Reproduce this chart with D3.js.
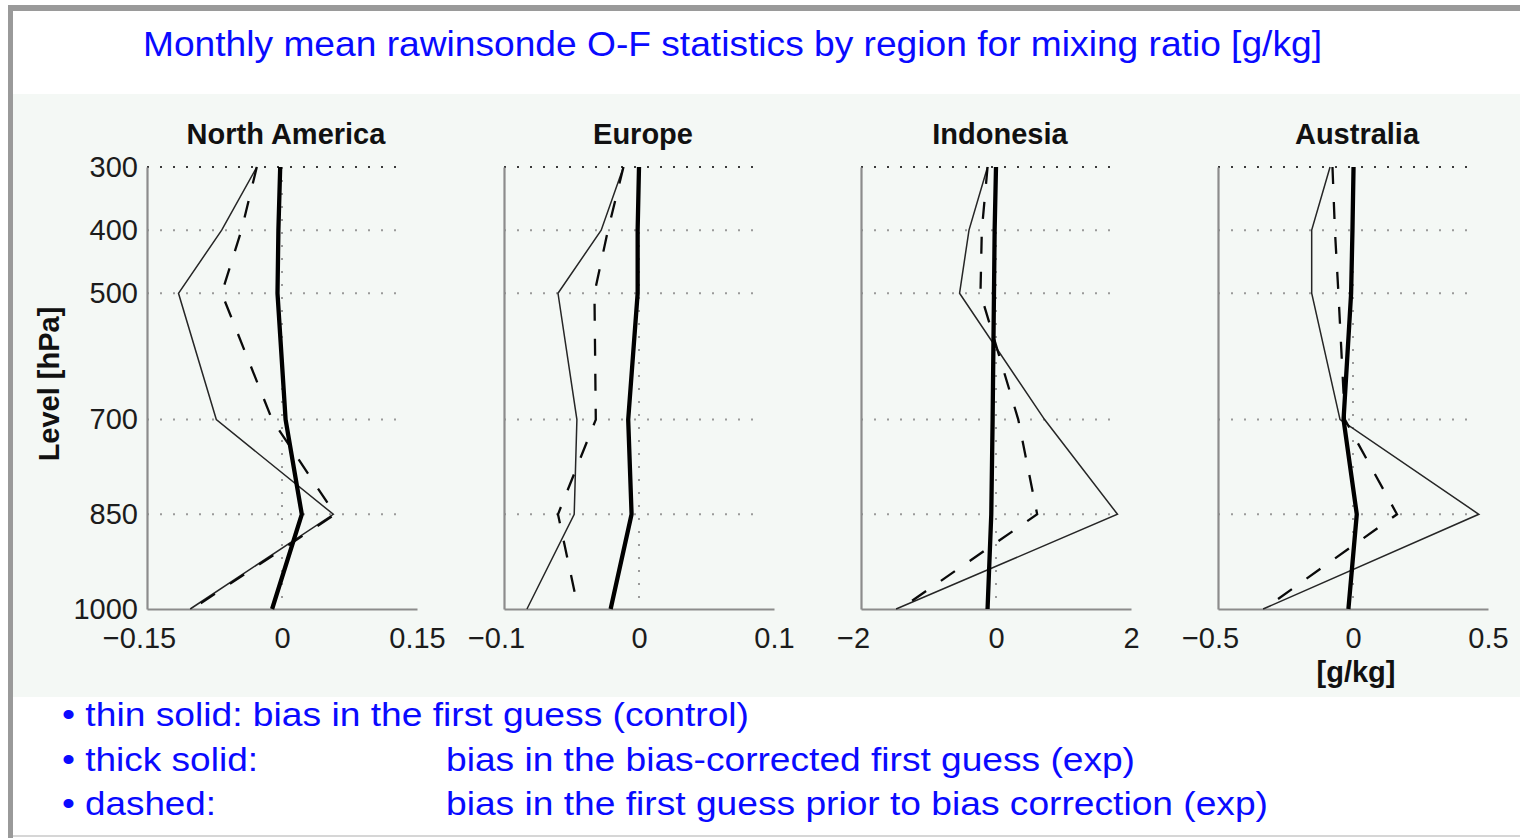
<!DOCTYPE html>
<html>
<head>
<meta charset="utf-8">
<script src="https://cdn.jsdelivr.net/npm/d3@7"></script>
<style>
  html, body { margin: 0; padding: 0; background: #fff; }
  svg { display: block; }
</style>
</head>
<body>
<script>
// Pressure levels [hPa] and panel setup
const levels = [300, 400, 500, 700, 850, 1000];
const regions = ["North America", "Europe", "Indonesia", "Australia"];
const xLimits = [0.15, 0.1, 2, 0.5];
const xTickLabels = [
  ["−0.15", "0", "0.15"],
  ["−0.1", "0", "0.1"],
  ["−2", "0", "2"],
  ["−0.5", "0", "0.5"]
];

// Mixing-ratio bias [g/kg] at each level, 300 -> 1000 hPa
// thin solid: first guess bias (control)
const naControl  = [-0.028, -0.067, -0.115, -0.073, 0.057, -0.102];
const euControl  = [-0.0115, -0.028, -0.060, -0.046, -0.048, -0.083];
const idControl  = [-0.125, -0.40, -0.54, 0.72, 1.80, -1.48];
const auControl  = [-0.085, -0.153, -0.153, -0.048, 0.466, -0.333];
// thick solid: bias-corrected first guess (exp)
const naCorrected = [-0.002, -0.004, -0.005, 0.004, 0.022, -0.011];
const euCorrected = [0.0, -0.001, -0.001, -0.008, -0.0055, -0.021];
const idCorrected = [0.0, -0.02, -0.03, -0.05, -0.07, -0.125];
const auCorrected = [0.002, -0.002, -0.007, -0.035, 0.014, -0.017];
// dashed: first guess prior to bias correction (exp)
const naPrior = [-0.028, -0.045, -0.067, -0.011, 0.059, -0.100];
const euPrior = [-0.0115, -0.023, -0.033, -0.032, -0.060, -0.045];
const idPrior = [-0.125, -0.21, -0.23, 0.33, 0.61, -1.42];
const auPrior = [-0.076, -0.067, -0.054, -0.030, 0.163, -0.330];

const controlSeries = [naControl, euControl, idControl, auControl];
const correctedSeries = [naCorrected, euCorrected, idCorrected, auCorrected];
const priorSeries = [naPrior, euPrior, idPrior, auPrior];

const legendLines = [
  ["• thin solid: bias in the first guess (control)", null],
  ["• thick solid:", "bias in the bias-corrected first guess (exp)"],
  ["• dashed:", "bias in the first guess prior to bias correction (exp)"]
];
const mainTitle = "Monthly mean rawinsonde O-F statistics by region for mixing ratio [g/kg]";

const W = 1520, H = 838;
const FONT = "'Liberation Sans', Arial, Helvetica, sans-serif";
const svg = d3.select("body").append("svg").attr("width", W).attr("height", H);

// page background and frame
svg.append("rect").attr("x", 0).attr("y", 0).attr("width", W).attr("height", H).attr("fill", "#fff");
svg.append("rect").attr("x", 13).attr("y", 94).attr("width", W - 13).attr("height", 603).attr("fill", "#f4f8f5");
svg.append("rect").attr("x", 8).attr("y", 5).attr("width", W - 8).attr("height", 6).attr("fill", "#9a9a9a");
svg.append("rect").attr("x", 8).attr("y", 5).attr("width", 5).attr("height", H - 5).attr("fill", "#9a9a9a");
svg.append("rect").attr("x", 13).attr("y", 835).attr("width", W - 13).attr("height", 2).attr("fill", "#d6d6d6");

// heading
svg.append("text")
  .attr("x", 143).attr("y", 56)
  .attr("font-family", FONT).attr("font-size", 35)
  .attr("fill", "#0a0aff")
  .attr("textLength", 1179).attr("lengthAdjust", "spacingAndGlyphs")
  .text(mainTitle);

// shared vertical scale (linear in pressure, 300 hPa at top)
const y = d3.scaleLinear().domain([300, 1000]).range([167, 609]);
const panelLeft0 = 147, panelStep = 357, panelWidth = 270;

regions.forEach((name, i) => {
  const left = panelLeft0 + i * panelStep;
  const lim = xLimits[i];
  const x = d3.scaleLinear().domain([-lim, lim]).range([left, left + panelWidth]);
  const g = svg.append("g");

  // dotted grid at each level
  g.selectAll("line.grid").data(levels.slice(0, -1)).join("line")
    .attr("x1", left).attr("x2", left + panelWidth - 12)
    .attr("y1", d => y(d)).attr("y2", d => y(d))
    .attr("stroke", d => d === 300 ? "#3a3a3a" : "#9a9a9a")
    .attr("stroke-width", 2)
    .attr("stroke-dasharray", "2,11");
  // dotted zero line
  g.append("line")
    .attr("x1", x(0)).attr("x2", x(0))
    .attr("y1", y(300)).attr("y2", y(1000))
    .attr("stroke", "#9a9a9a").attr("stroke-width", 2)
    .attr("stroke-dasharray", "2,11");

  // axes
  const xAxis = d3.axisBottom(x)
    .tickValues([-lim, 0, lim])
    .tickFormat((d, j) => xTickLabels[i][j])
    .tickSize(0).tickSizeOuter(0).tickPadding(18);
  const gx = g.append("g").attr("transform", `translate(0,${y(1000)})`).call(xAxis);
  gx.select(".domain").attr("stroke", "#8c8c8c").attr("stroke-width", 2.2);
  gx.selectAll("text")
    .attr("font-family", FONT).attr("font-size", 29).attr("fill", "#1c1c1c")
    .attr("dx", (d) => d < 0 ? -8 : 0);

  const yAxis = d3.axisLeft(y)
    .tickValues(i === 0 ? levels : [])
    .tickFormat(d3.format("d"))
    .tickSize(0).tickSizeOuter(0).tickPadding(9);
  const gy = g.append("g").attr("transform", `translate(${left},0)`).call(yAxis);
  gy.select(".domain").attr("stroke", "#8c8c8c").attr("stroke-width", 2.2);
  gy.selectAll("text")
    .attr("font-family", FONT).attr("font-size", 29).attr("fill", "#1c1c1c");

  // panel title
  g.append("text")
    .attr("x", left + panelWidth / 2 + 4).attr("y", 144)
    .attr("text-anchor", "middle")
    .attr("font-family", FONT).attr("font-size", 29).attr("font-weight", "bold")
    .attr("fill", "#111")
    .text(name);

  const line = d3.line()
    .x(d => x(d[1]))
    .y(d => y(d[0]));
  const pairs = arr => levels.map((p, k) => [p, arr[k]]);

  g.append("path").datum(pairs(controlSeries[i]))
    .attr("d", line).attr("fill", "none")
    .attr("stroke", "#262626").attr("stroke-width", 1.5);
  g.append("path").datum(pairs(priorSeries[i]))
    .attr("d", line).attr("fill", "none")
    .attr("stroke", "#0a0a0a").attr("stroke-width", 2.3)
    .attr("stroke-dasharray", "17,18");
  g.append("path").datum(pairs(correctedSeries[i]))
    .attr("d", line).attr("fill", "none")
    .attr("stroke", "#000").attr("stroke-width", 4.3)
    .attr("stroke-linejoin", "round");

  if (i === regions.length - 1) {
    g.append("text")
      .attr("x", x(0) + 3).attr("y", 682)
      .attr("text-anchor", "middle")
      .attr("font-family", FONT).attr("font-size", 29).attr("font-weight", "bold")
      .attr("fill", "#111")
      .text("[g/kg]");
  }
});

// y-axis title
svg.append("text")
  .attr("transform", "translate(59,384) rotate(-90)")
  .attr("text-anchor", "middle")
  .attr("font-family", FONT).attr("font-size", 29).attr("font-weight", "bold")
  .attr("fill", "#111")
  .text("Level [hPa]");

// line-style notes
const noteBaselines = [726, 771, 815];
const noteWidths = [[687, null], [196, 689], [154, 822]];
legendLines.forEach((ln, k) => {
  svg.append("text")
    .attr("x", 62).attr("y", noteBaselines[k])
    .attr("font-family", FONT).attr("font-size", 33).attr("fill", "#0a0aff")
    .attr("textLength", noteWidths[k][0]).attr("lengthAdjust", "spacingAndGlyphs")
    .text(ln[0]);
  if (ln[1]) {
    svg.append("text")
      .attr("x", 446).attr("y", noteBaselines[k])
      .attr("font-family", FONT).attr("font-size", 33).attr("fill", "#0a0aff")
      .attr("textLength", noteWidths[k][1]).attr("lengthAdjust", "spacingAndGlyphs")
      .text(ln[1]);
  }
});
</script>
</body>
</html>
